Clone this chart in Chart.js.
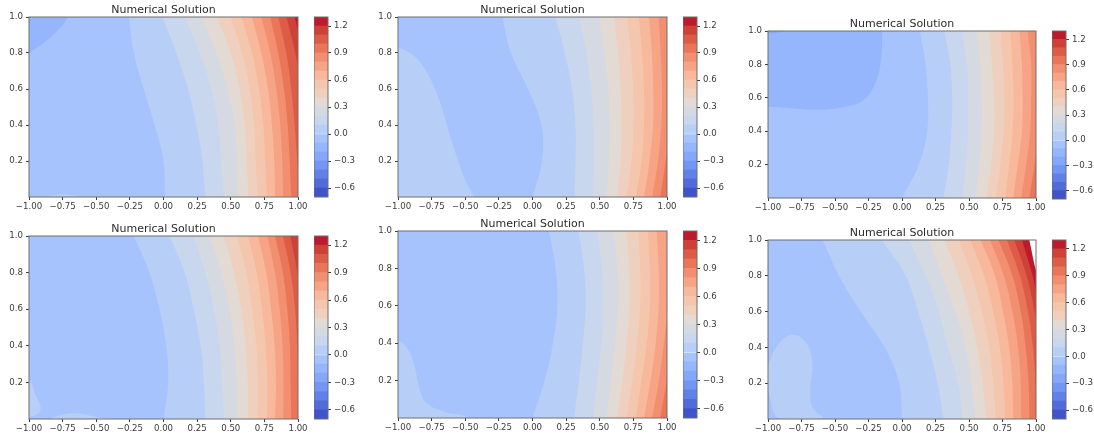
<!DOCTYPE html>
<html>
<head>
<meta charset="utf-8">
<title>Numerical Solution</title>
<script src="https://cdn.jsdelivr.net/npm/chart.js@4"></script>
<style>
  html, body { margin: 0; padding: 0; background: #fff; }
  body { position: relative; width: 1094px; height: 436px; overflow: hidden; }
  canvas { position: absolute; filter: blur(0.45px); }
</style>
</head>
<body>
<script>
// --- data ---
const titleText = "Numerical Solution";
const xTicks = [-1, -0.75, -0.5, -0.25, 0, 0.25, 0.5, 0.75, 1];
const yTicks = [0.2, 0.4, 0.6, 0.8, 1];
const barTicks = [-0.6, -0.3, 0, 0.3, 0.6, 0.9, 1.2];
const barLevels = [-0.7, -0.6, -0.5, -0.4, -0.3, -0.2, -0.1, 0, 0.1, 0.2, 0.3, 0.4, 0.5, 0.6, 0.7, 0.8, 0.9, 1, 1.1, 1.2, 1.3];
// coolwarm bands, the last one is the "above the levels" white of panel 6
const bandColors = ["#4153ca", "#516cda", "#6281e8", "#7296f4", "#84a7fa", "#95b6fd", "#a6c3fd", "#b7cff7", "#c8d6ee", "#d5dae2",
  "#e3dad4", "#efd0bf", "#f5c6ae", "#f8b89c", "#f7a385", "#f28f70", "#e97658", "#dd5c47", "#cf4136", "#bd1a2e", "#ffffff"];

// every contour gives x at these heights
const yRows = [1, 0.8, 0.6, 0.4, 0.2, 0];

// contours, left to right, level 0.0 first
const p1Contours = [
  [-0.257, -0.22, -0.147, -0.066, 0, 0.01],
  [-0.009, 0.095, 0.182, 0.244, 0.289, 0.31],
  [0.157, 0.27, 0.356, 0.405, 0.43, 0.45],
  [0.286, 0.393, 0.475, 0.53, 0.545, 0.55],
  [0.398, 0.5, 0.565, 0.603, 0.618, 0.63],
  [0.497, 0.584, 0.64, 0.673, 0.685, 0.7],
  [0.578, 0.658, 0.71, 0.742, 0.757, 0.77],
  [0.658, 0.727, 0.777, 0.806, 0.824, 0.83],
  [0.727, 0.794, 0.839, 0.868, 0.883, 0.89],
  [0.794, 0.853, 0.896, 0.923, 0.938, 0.95],
  [0.853, 0.913, 0.95, 0.975, 0.995, 1.02],
  [0.915, 0.98, 1.03, 1.08, 1.1, 1.12],
  [0.975, 1.04, 1.1, 1.15, 1.2, 1.25]
];
const p2Contours = [
  [-0.224, -0.16, -0.034, 0.066, 0.07, 0],
  [0.17, 0.24, 0.294, 0.32, 0.32, 0.31],
  [0.35, 0.4, 0.437, 0.452, 0.454, 0.45],
  [0.494, 0.536, 0.564, 0.574, 0.568, 0.55],
  [0.606, 0.635, 0.655, 0.66, 0.655, 0.63],
  [0.702, 0.73, 0.747, 0.75, 0.735, 0.7],
  [0.79, 0.814, 0.829, 0.829, 0.81, 0.77],
  [0.866, 0.888, 0.898, 0.896, 0.87, 0.83],
  [0.938, 0.953, 0.963, 0.958, 0.933, 0.89],
  [1.02, 1.03, 1.03, 1.02, 0.99, 0.95]
];
const p3Contours = [
  [0.133, 0.176, 0.193, 0.188, 0.126, 0],
  [0.317, 0.36, 0.374, 0.369, 0.349, 0.31],
  [0.448, 0.486, 0.493, 0.493, 0.478, 0.45],
  [0.555, 0.585, 0.597, 0.597, 0.577, 0.55],
  [0.652, 0.671, 0.686, 0.686, 0.664, 0.63],
  [0.734, 0.753, 0.763, 0.758, 0.733, 0.7],
  [0.808, 0.823, 0.833, 0.825, 0.8, 0.77],
  [0.877, 0.895, 0.9, 0.895, 0.865, 0.83],
  [0.937, 0.964, 0.964, 0.957, 0.927, 0.89],
  [1.03, 1.03, 1.03, 1.02, 0.99, 0.95]
];
const p4Contours = [
  [-0.22, -0.105, -0.03, 0.02, 0.035, 0],
  [0.046, 0.157, 0.224, 0.276, 0.3, 0.31],
  [0.22, 0.31, 0.375, 0.417, 0.437, 0.45],
  [0.346, 0.43, 0.49, 0.527, 0.546, 0.55],
  [0.45, 0.524, 0.578, 0.61, 0.625, 0.63],
  [0.546, 0.615, 0.658, 0.69, 0.702, 0.7],
  [0.628, 0.693, 0.732, 0.76, 0.772, 0.77],
  [0.702, 0.764, 0.8, 0.826, 0.836, 0.83],
  [0.772, 0.829, 0.864, 0.886, 0.893, 0.89],
  [0.829, 0.888, 0.92, 0.94, 0.945, 0.95],
  [0.888, 0.945, 0.978, 0.995, 1.005, 1.01],
  [0.943, 0.995, 1.03, 1.06, 1.08, 1.1]
];
const p5Contours = [
  [0.123, 0.172, 0.185, 0.152, 0.09, 0],
  [0.343, 0.383, 0.395, 0.375, 0.345, 0.31],
  [0.482, 0.517, 0.526, 0.512, 0.482, 0.45],
  [0.603, 0.63, 0.635, 0.615, 0.586, 0.55],
  [0.697, 0.717, 0.72, 0.7, 0.668, 0.63],
  [0.784, 0.8, 0.8, 0.777, 0.742, 0.7],
  [0.858, 0.872, 0.872, 0.85, 0.81, 0.77],
  [0.923, 0.938, 0.938, 0.916, 0.878, 0.83],
  [1.03, 1.03, 1.01, 0.977, 0.94, 0.89],
  [1.2, 1.15, 1.1, 1.06, 1, 0.95]
];
const p6Contours = [
  [-0.593, -0.47, -0.31, -0.13, -0.02, 0],
  [-0.152, 0.027, 0.12, 0.2, 0.265, 0.31],
  [0.052, 0.177, 0.275, 0.342, 0.42, 0.45],
  [0.203, 0.3, 0.4, 0.475, 0.52, 0.55],
  [0.319, 0.42, 0.5, 0.56, 0.6, 0.63],
  [0.423, 0.52, 0.595, 0.65, 0.68, 0.7],
  [0.51, 0.612, 0.68, 0.73, 0.757, 0.77],
  [0.587, 0.694, 0.754, 0.8, 0.824, 0.83],
  [0.656, 0.76, 0.824, 0.866, 0.886, 0.89],
  [0.72, 0.824, 0.886, 0.923, 0.945, 0.95],
  [0.783, 0.88, 0.94, 0.977, 0.997, 1.01],
  [0.838, 0.93, 0.99, 1.03, 1.06, 1.08],
  [0.895, 0.975, 1.03, 1.1, 1.15, 1.2],
  [0.95, 1.01, 1.1, 1.2, 1.3, 1.4]
];

// closed islands of another band on the left of each panel
const p1Islands = [
  { band: 5, x: [-1.2, -1, -0.896, -0.784, -0.71, -0.62, -1.2], y: [0.7, 0.8, 0.853, 0.926, 1, 1.12, 1.2] },
  { band: 7, x: [-0.87, -0.75, -0.6], y: [0, 0.015, 0] }
];
const p2Islands = [
  { band: 7, x: [-1.2, -1, -0.876, -0.777, -0.69, -0.6, -0.504, -0.435, -0.4, -1.2], y: [0.87, 0.83, 0.78, 0.68, 0.53, 0.31, 0.1, 0, -0.1, -0.1] }
];
const p3Islands = [
  { band: 5, x: [-0.14, -0.147, -0.16, -0.21, -0.3, -0.42, -0.62, -1, -1.2, -1.2], y: [1.2, 1, 0.807, 0.667, 0.578, 0.548, 0.528, 0.548, 0.55, 1.2] },
  { band: 4, x: [-1.1, -1, -0.88, -0.82, -1.1], y: [0.97, 0.985, 1, 1.05, 1.05] }
];
const p4Islands = [
  { band: 7, x: [-1.1, -1, -0.95, -0.915, -0.93, -1, -1.1], y: [0.22, 0.215, 0.13, 0.07, 0.03, 0.01, 0.01] },
  { band: 7, x: [-0.85, -0.75, -0.63, -0.5, -0.35], y: [0, 0.025, 0.03, 0.012, 0] }
];
const p5Islands = [
  { band: 7, x: [-1.2, -1, -0.926, -0.876, -0.827, -0.777, -0.653, -0.48, -0.4, -1.2], y: [0.42, 0.415, 0.367, 0.27, 0.127, 0.073, 0.032, 0, -0.1, -0.1] }
];
const p6Islands = [
  { band: 7, x: [-1, -0.93, -0.82, -0.72, -0.67, -0.685, -0.665, -0.59, -0.915, -1], y: [0.3, 0.41, 0.47, 0.43, 0.32, 0.15, 0.06, 0, 0, 0.16] }
];

// --- layout ---
const panels = [
  { contours: p1Contours, islands: p1Islands, plot: [29, 17, 298, 197], bar: [314, 17, 328, 197] },
  { contours: p2Contours, islands: p2Islands, plot: [398, 17, 667, 197], bar: [683, 17, 697, 197] },
  { contours: p3Contours, islands: p3Islands, plot: [768, 31, 1036, 198], bar: [1052, 31, 1066, 199] },
  { contours: p4Contours, islands: p4Islands, plot: [29, 236, 298, 419], bar: [314, 236, 328, 419] },
  { contours: p5Contours, islands: p5Islands, plot: [398, 231, 667, 418], bar: [683, 231, 697, 418] },
  { contours: p6Contours, islands: p6Islands, plot: [768, 240, 1036, 419], bar: [1052, 240, 1066, 419] }
];
const baseBand = 6;  // the band every panel starts from, left of its first contour
const tickFont = { family: "DejaVu Sans", size: 8.6 };
const inkColor = "#3a3a3a";
const frameColor = "#6f6f6f";

// background band and all four spines
const framePlugin = {
  id: "frame",
  beforeDatasetsDraw(chart, args, opts) {
    if (!opts.fill) return;
    const a = chart.chartArea;
    chart.ctx.fillStyle = opts.fill;
    chart.ctx.fillRect(a.left, a.top, a.right - a.left, a.bottom - a.top);
  },
  afterDatasetsDraw(chart) {
    const a = chart.chartArea;
    chart.ctx.strokeStyle = frameColor;
    chart.ctx.lineWidth = 1;
    chart.ctx.strokeRect(a.left, a.top, a.right - a.left, a.bottom - a.top);
  }
};

function addCanvas(left, top, width, height) {
  const c = document.createElement("canvas");
  c.width = width;
  c.height = height;
  c.style.left = left + "px";
  c.style.top = top + "px";
  document.body.appendChild(c);
  return c;
}

function axisLabel(v) {
  return String(v).replace("-", "\u2212");
}

function tickMarks() {
  return { drawOnChartArea: false, drawTicks: true, tickLength: 3, color: inkColor };
}

function drawPanel(p) {
  const [l, t, r, b] = p.plot;
  const side = 30, top = 16, bottom = 20;  // same margin both sides so the title centres on the plot
  const canvas = addCanvas(l - side, t - top, r - l + side * 2, b - t + top + bottom);

  // painted last to first by Chart.js, so the list gets reversed below
  const layers = [];
  p.islands.forEach(isl => {
    layers.push({
      data: isl.x.map((x, i) => ({ x: x, y: isl.y[i] })),
      backgroundColor: bandColors[isl.band],
      fill: "shape"
    });
  });
  p.contours.forEach((xs, k) => {
    layers.push({
      data: xs.map((x, i) => ({ x: x, y: yRows[i] })),
      backgroundColor: bandColors[baseBand + 1 + k],
      fill: { value: 1 }
    });
  });

  new Chart(canvas, {
    type: "line",
    data: { datasets: layers.reverse() },
    plugins: [framePlugin],
    options: {
      indexAxis: "y",
      responsive: false,
      animation: false,
      events: [],
      elements: { point: { radius: 0 }, line: { borderWidth: 0, tension: 0.4 } },
      plugins: {
        legend: { display: false },
        tooltip: { enabled: false },
        frame: { fill: bandColors[baseBand] },
        title: {
          display: true,
          text: titleText,
          color: "#2a2a2a",
          font: { family: "DejaVu Sans", size: 11, weight: "normal", lineHeight: 1.2 },
          padding: { top: 2.8, bottom: 0 }
        }
      },
      scales: {
        x: {
          type: "linear",
          min: -1,
          max: 1,
          grid: tickMarks(),
          border: { display: false },
          afterBuildTicks: s => { s.ticks = xTicks.map(v => ({ value: v })); },
          afterFit: s => { s.height = bottom; },
          ticks: {
            autoSkip: false, maxRotation: 0, minRotation: 0, padding: 2,
            color: inkColor, font: tickFont,
            callback: v => axisLabel(v.toFixed(2))
          }
        },
        y: {
          type: "linear",
          min: 0,
          max: 1,
          grid: tickMarks(),
          border: { display: false },
          afterBuildTicks: s => { s.ticks = yTicks.map(v => ({ value: v })); },
          afterFit: s => { s.width = side; },
          ticks: {
            autoSkip: false, padding: 3,
            color: inkColor, font: tickFont,
            callback: v => v.toFixed(1)
          }
        },
        // empty axis, only there to hold the right margin
        spacer: {
          type: "linear",
          position: "right",
          grid: { display: false },
          border: { display: false },
          ticks: { display: false },
          afterFit: s => { s.width = side; }
        }
      }
    }
  });
}

function drawBar(p) {
  const [l, t, r, b] = p.bar;
  const right = 40, edge = 6;
  const canvas = addCanvas(l, t - edge, r - l + right, b - t + edge * 2);
  const bars = barLevels.slice(0, -1).map((lo, i) => ({
    data: [[lo, barLevels[i + 1]]],
    backgroundColor: bandColors[i],
    barPercentage: 1,
    categoryPercentage: 1,
    grouped: false
  }));

  new Chart(canvas, {
    type: "bar",
    data: { labels: [""], datasets: bars },
    plugins: [framePlugin],
    options: {
      responsive: false,
      animation: false,
      events: [],
      layout: { padding: { top: edge, bottom: edge } },
      plugins: { legend: { display: false }, tooltip: { enabled: false } },
      scales: {
        x: { display: false },
        y: {
          position: "right",
          min: barLevels[0],
          max: barLevels[barLevels.length - 1],
          grid: tickMarks(),
          border: { display: false },
          afterBuildTicks: s => { s.ticks = barTicks.map(v => ({ value: v })); },
          afterFit: s => { s.width = right; s.paddingTop = 0; s.paddingBottom = 0; },
          ticks: {
            autoSkip: false, padding: 3,
            color: inkColor, font: tickFont,
            callback: v => axisLabel(v.toFixed(1))
          }
        }
      }
    }
  });
}

panels.forEach(p => {
  drawPanel(p);
  drawBar(p);
});
</script>
</body>
</html>
